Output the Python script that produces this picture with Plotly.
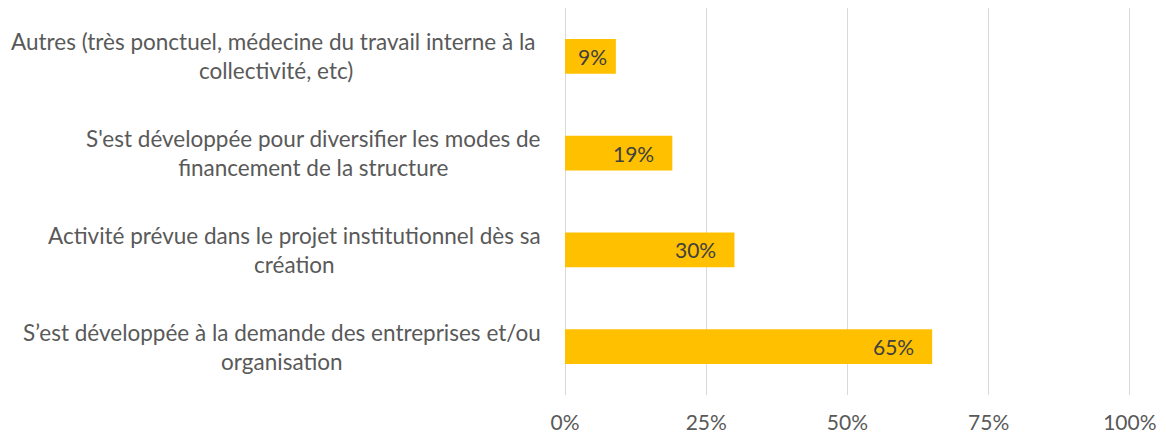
import plotly.graph_objects as go

categories = [
    "Autres (très ponctuel, médecine du travail interne à la\u00a0<br>collectivité, etc)",
    "S'est développée pour diversifier les modes de<br>financement de la structure",
    "Activité prévue dans le projet institutionnel dès sa<br>création",
    "S’est développée à la demande des entreprises et/ou<br>organisation",
]
values = [0.09, 0.19, 0.30, 0.65]
value_labels = ["9%", "19%", "30%", "65%"]
tick_vals = [0, 0.25, 0.5, 0.75, 1.0]
tick_text = ["0%", "25%", "50%", "75%", "100%"]

FONT = "Lato, 'Open Sans', sans-serif"

fig = go.Figure(go.Bar(
    x=values, y=categories, orientation="h",
    marker=dict(color="#FFC000", line=dict(width=0)),
    hoverinfo="skip",
))

ann = []
for c, v, t in zip(categories, values, value_labels):
    shift = -7 if v < 0.15 else -16
    ann.append(dict(x=v, y=c, xref="x", yref="y", text=t, showarrow=False,
                    xanchor="right", xshift=shift, font=dict(family=FONT, size=21, color="#404040")))
    ann.append(dict(x=0, y=c, xref="paper", yref="y", text=c, showarrow=False,
                    xanchor="right", xshift=-22, align="center",
                    font=dict(family=FONT, size=22.5, color="#595959")))

fig.update_layout(
    width=1158, height=426,
    margin=dict(l=557, r=35, t=0, b=36),
    paper_bgcolor="white", plot_bgcolor="white",
    bargap=0.64,
    showlegend=False,
    annotations=ann,
    xaxis=dict(range=[0, 1.002], tickvals=tick_vals, ticktext=tick_text,
               showgrid=True, gridcolor="#D9D9D9", gridwidth=1,
               zeroline=True, zerolinecolor="#D9D9D9", zerolinewidth=1,
               showline=False, ticks="outside", ticklen=9, tickcolor="rgba(0,0,0,0)",
               tickfont=dict(family=FONT, size=21, color="#595959"), fixedrange=True),
    yaxis=dict(autorange="reversed", showticklabels=False, showgrid=False,
               zeroline=False, showline=False, fixedrange=True),
)

fig.write_html("out.html")
